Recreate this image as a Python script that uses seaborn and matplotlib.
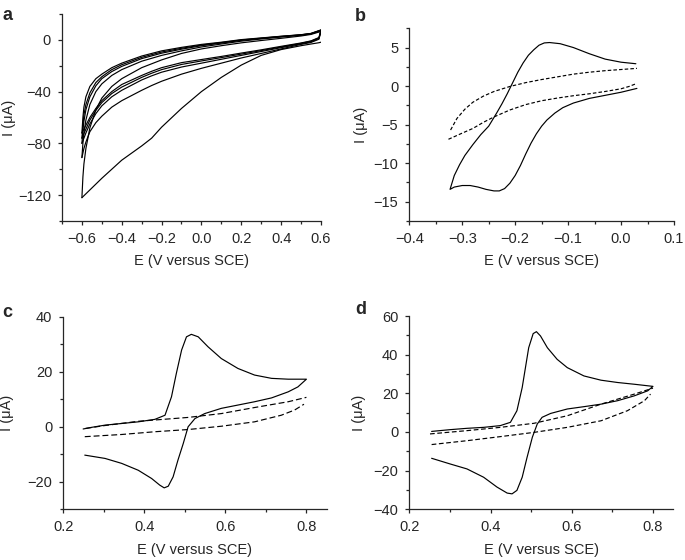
import matplotlib
matplotlib.use("Agg")
import matplotlib.pyplot as plt
import seaborn as sns
from matplotlib.ticker import MultipleLocator

# ---- panel a: repeated cycles, cathodic sweeps (0.6 -> -0.6) ----
a_E_cath = [0.6, 0.59, 0.55, 0.5, 0.4, 0.3, 0.2, 0.1, 0.0, -0.1, -0.2, -0.25, -0.3,
            -0.4, -0.45, -0.5, -0.53, -0.56, -0.58, -0.59, -0.6]
a_cath1 = [-1.8, -2.2, -3.2, -4.5, -7.5, -12, -19.5, -29, -40, -53, -67.5, -76, -82,
           -93, -100, -107, -111.5, -116, -119, -120.5, -122]
a_cath2 = [6.5, 0.5, -2, -3.5, -7, -10.5, -14, -18, -22, -26.5, -32, -35.3, -39,
           -47, -52, -59, -64, -71, -79, -84, -91]
a_cath3 = [7, 1, -1.5, -3, -6, -9, -12, -15, -18, -21, -25, -27.8, -31,
           -39, -44, -51, -57, -65, -72, -76, -80]
a_cath4 = [7.3, 1.5, -1, -2.7, -5.5, -8.3, -11, -13.7, -16.3, -19, -23, -25.8, -29,
           -36.5, -41.5, -48.5, -54.5, -62, -69, -72.5, -76]
a_cath5 = [7.5, 1.8, -0.8, -2.4, -5, -7.7, -10.2, -12.8, -15.2, -17.6, -21.5, -24.3, -27.5,
           -34.5, -40, -47, -53, -60, -66, -69, -72]

# anodic sweeps (-0.6 -> 0.6)
a_E_an = [-0.6, -0.595, -0.59, -0.58, -0.56, -0.53, -0.5, -0.45, -0.4, -0.3,
          -0.2, -0.1, 0.0, 0.1, 0.2, 0.3, 0.4, 0.5, 0.55, 0.6]
a_an1 = [-122, -106, -96, -84, -68, -54, -45, -36, -30, -21.5,
         -15.5, -10.5, -7, -4.5, -2.3, -0.5, 1.2, 3, 4.2, 6.5]
a_an2 = [-91, -80, -72, -62, -50, -40, -34, -27.5, -23, -16.5,
         -12, -8.5, -5.5, -3.2, -1, 0.7, 2.2, 3.6, 4.6, 7]
a_an3 = [-80, -70, -63, -54, -44, -35.5, -30, -24.5, -20.5, -14.5,
         -10.3, -7.2, -4.5, -2.5, -0.4, 1.1, 2.5, 3.8, 4.8, 7.3]
a_an4 = [-76, -66, -58, -50, -41, -33, -28.5, -23, -19.2, -13.5,
         -9.4, -6.5, -4, -2.1, -0.1, 1.3, 2.7, 3.9, 4.9, 7.5]
a_an5 = [-72, -60, -52, -44, -36, -30, -26.5, -21.5, -18, -12.5,
         -8.5, -5.8, -3.5, -1.8, 0.2, 1.5, 2.8, 4, 5, 7.7]

# ---- panel b ----
b_E_solid = [0.028, 0.0, -0.03, -0.06, -0.09, -0.115, -0.135, -0.145, -0.155, -0.165,
             -0.175, -0.185, -0.195, -0.205, -0.215, -0.225, -0.235, -0.25, -0.265,
             -0.28, -0.295, -0.305, -0.315, -0.323, -0.315, -0.3, -0.285, -0.27,
             -0.255, -0.24, -0.23, -0.22, -0.21, -0.2, -0.19, -0.18, -0.17, -0.16,
             -0.15, -0.14, -0.125, -0.11, -0.09, -0.06, -0.03, 0.0, 0.03]
b_I_solid = [2.9, 3.1, 3.5, 4.2, 5.0, 5.5, 5.65, 5.6, 5.3, 4.7,
             4.0, 3.0, 1.8, 0.4, -1.0, -2.3, -3.5, -5.2, -6.3,
             -7.6, -9.0, -10.2, -11.6, -13.4, -13.1, -12.9, -12.9, -13.1,
             -13.4, -13.6, -13.6, -13.3, -12.6, -11.6, -10.3, -8.8, -7.4, -6.2,
             -5.2, -4.4, -3.5, -2.8, -2.2, -1.6, -1.2, -0.8, -0.3]
b_E_dash_up = [-0.322, -0.31, -0.295, -0.28, -0.26, -0.24, -0.21, -0.18, -0.15,
               -0.12, -0.09, -0.06, -0.03, 0.0, 0.03]
b_I_dash_up = [-5.7, -4.2, -3.0, -2.1, -1.3, -0.7, -0.05, 0.45, 0.85,
               1.2, 1.55, 1.8, 2.0, 2.15, 2.3]
b_E_dash_lo = [-0.326, -0.3, -0.28, -0.26, -0.24, -0.21, -0.18, -0.15, -0.12,
               -0.09, -0.06, -0.03, 0.0, 0.015, 0.03]
b_I_dash_lo = [-6.9, -6.1, -5.5, -4.7, -4.0, -3.1, -2.4, -1.9, -1.55,
               -1.25, -1.0, -0.7, -0.35, -0.05, 0.35]

# ---- panel c ----
c_E_solid = [0.253, 0.303, 0.344, 0.385, 0.418, 0.438, 0.449, 0.459, 0.471, 0.483,
             0.496, 0.508, 0.525, 0.549, 0.59, 0.631, 0.672, 0.714, 0.755, 0.779,
             0.8, 0.755, 0.714, 0.672, 0.631, 0.59, 0.557, 0.533, 0.516, 0.504,
             0.492, 0.479, 0.467, 0.451, 0.426, 0.385, 0.344, 0.303, 0.27, 0.249]
c_I_solid = [-10.3, -11.5, -13.3, -15.8, -18.8, -21.2, -22.2, -21.6, -18.2, -12.1,
             -6.1, 0.0, 3.0, 4.8, 6.7, 7.9, 9.1, 10.5, 12.7, 14.5,
             17.3, 17.3, 17.6, 18.8, 21.2, 24.8, 29.1, 32.7, 33.6, 32.7,
             27.9, 19.4, 10.9, 4.2, 2.7, 1.8, 1.2, 0.6, -0.2, -0.8]
c_E_dash_up = [0.255, 0.3, 0.385, 0.508, 0.59, 0.672, 0.755, 0.8]
c_I_dash_up = [-0.6, 0.4, 2.0, 3.4, 4.8, 7.0, 9.1, 10.7]
c_E_dash_lo = [0.253, 0.344, 0.426, 0.508, 0.59, 0.672, 0.738, 0.771, 0.794]
c_I_dash_lo = [-3.6, -2.8, -1.8, -1.0, 0.2, 1.8, 4.2, 6.1, 8.2]

# ---- panel d ----
d_E_solid = [0.255, 0.3, 0.342, 0.383, 0.416, 0.441, 0.453, 0.465, 0.478, 0.49,
             0.503, 0.515, 0.527, 0.548, 0.589, 0.63, 0.672, 0.713, 0.754, 0.787,
             0.8, 0.754, 0.713, 0.672, 0.63, 0.589, 0.564, 0.54, 0.523, 0.513,
             0.505, 0.494, 0.486, 0.478, 0.465, 0.449, 0.424, 0.383, 0.342, 0.3, 0.255]
d_I_solid = [-13.6, -16.5, -19.1, -23.4, -28.5, -31.6, -32, -30.2, -23.4, -13.1,
             -2.7, 4.1, 7.6, 9.6, 11.9, 13.1, 14.4, 16.2, 18.7, 21.3,
             23.6, 24.7, 25.6, 26.8, 29, 33.3, 37.6, 43.6, 49.7, 51.9,
             50.9, 43.6, 33.3, 23, 11, 5, 3.3, 2.4, 1.9, 1.2, 0.3]
d_E_dash_up = [0.251, 0.342, 0.424, 0.507, 0.589, 0.672, 0.754, 0.8]
d_I_dash_up = [-1.0, 0.7, 2.4, 4.5, 8.4, 14.4, 19.6, 22.7]
d_E_dash_lo = [0.255, 0.342, 0.424, 0.507, 0.589, 0.672, 0.737, 0.779, 0.794]
d_I_dash_lo = [-6.5, -4.5, -2.4, -0.2, 2.4, 5.8, 11, 16.2, 19.6]

sns.set_style("ticks")
plt.rcParams['font.family'] = ['Liberation Sans', 'DejaVu Sans']
plt.rcParams['font.size'] = 10.5
plt.rcParams['xtick.major.size'] = 3
plt.rcParams['ytick.major.size'] = 3
plt.rcParams['xtick.minor.size'] = 2
plt.rcParams['ytick.minor.size'] = 2
plt.rcParams['xtick.major.pad'] = 5
plt.rcParams['ytick.major.pad'] = 5
plt.rcParams['axes.linewidth'] = 0.9

fig = plt.figure(figsize=(6.85, 5.6), dpi=100)
ax_a = fig.add_axes([0.0905, 0.6054, 0.378, 0.3696])
ax_b = fig.add_axes([0.5975, 0.6054, 0.3864, 0.3441])
ax_c = fig.add_axes([0.0924, 0.0905, 0.3845, 0.3439])
ax_d = fig.add_axes([0.5975, 0.0905, 0.3854, 0.3452])

lw = 0.85
solid = dict(color='black', lw=lw, sort=False, estimator=None)

# panel a
for cath in [a_cath1, a_cath2, a_cath3, a_cath4, a_cath5]:
    sns.lineplot(x=a_E_cath, y=cath, ax=ax_a, **solid)
for an in [a_an1, a_an2, a_an3, a_an4, a_an5]:
    sns.lineplot(x=a_E_an, y=an, ax=ax_a, **solid)
ax_a.set_xlim(-0.7, 0.6)
ax_a.set_ylim(-140, 20)
ax_a.xaxis.set_major_locator(MultipleLocator(0.2))
ax_a.xaxis.set_minor_locator(MultipleLocator(0.1))
ax_a.set_yticks([-120, -80, -40, 0])
ax_a.yaxis.set_minor_locator(MultipleLocator(20))

# panel b
sns.lineplot(x=b_E_solid, y=b_I_solid, ax=ax_b, **solid)
sns.lineplot(x=b_E_dash_up, y=b_I_dash_up, ax=ax_b, linestyle=(0, (3, 1.8)), **solid)
sns.lineplot(x=b_E_dash_lo, y=b_I_dash_lo, ax=ax_b, linestyle=(0, (3, 1.8)), **solid)
ax_b.set_xlim(-0.4, 0.1)
ax_b.set_ylim(-17.5, 7.5)
ax_b.xaxis.set_major_locator(MultipleLocator(0.1))
ax_b.xaxis.set_minor_locator(MultipleLocator(0.05))
ax_b.set_yticks([-15, -10, -5, 0, 5])
ax_b.yaxis.set_minor_locator(MultipleLocator(2.5))

# panel c
sns.lineplot(x=c_E_solid, y=c_I_solid, ax=ax_c, **solid)
sns.lineplot(x=c_E_dash_up, y=c_I_dash_up, ax=ax_c, linestyle=(0, (5, 2.5)), **solid)
sns.lineplot(x=c_E_dash_lo, y=c_I_dash_lo, ax=ax_c, linestyle=(0, (5, 2.5)), **solid)
ax_c.set_xlim(0.2, 0.85)
ax_c.set_ylim(-30, 40)
ax_c.set_xticks([0.2, 0.4, 0.6, 0.8])
ax_c.xaxis.set_minor_locator(MultipleLocator(0.1))
ax_c.set_yticks([-20, 0, 20, 40])
ax_c.yaxis.set_minor_locator(MultipleLocator(10))

# panel d
sns.lineplot(x=d_E_solid, y=d_I_solid, ax=ax_d, **solid)
sns.lineplot(x=d_E_dash_up, y=d_I_dash_up, ax=ax_d, linestyle=(0, (4, 2.2)), **solid)
sns.lineplot(x=d_E_dash_lo, y=d_I_dash_lo, ax=ax_d, linestyle=(0, (4, 2.2)), **solid)
ax_d.set_xlim(0.2, 0.85)
ax_d.set_ylim(-40, 60)
ax_d.set_xticks([0.2, 0.4, 0.6, 0.8])
ax_d.xaxis.set_minor_locator(MultipleLocator(0.1))
ax_d.set_yticks([-40, -20, 0, 20, 40, 60])
ax_d.yaxis.set_minor_locator(MultipleLocator(10))

ylab_x = {ax_a: -0.178, ax_b: -0.156, ax_c: -0.187, ax_d: -0.165}
for ax in [ax_a, ax_b, ax_c, ax_d]:
    sns.despine(ax=ax)
    ax.set_xlabel("E (V versus SCE)", fontsize=10.5, labelpad=6)
    ax.set_ylabel("I (\u03bcA)", fontsize=10.5)
    ax.yaxis.set_label_coords(ylab_x[ax], 0.5)
    ax.tick_params(which='both', direction='out', width=0.9, labelsize=10.5)

fig.text(0.004, 0.988, "a", fontsize=13, fontweight='bold', va='top')
fig.text(0.518, 0.986, "b", fontsize=13, fontweight='bold', va='top')
fig.text(0.004, 0.458, "c", fontsize=13, fontweight='bold', va='top')
fig.text(0.518, 0.462, "d", fontsize=13, fontweight='bold', va='top')

fig.savefig("out.png", dpi=100)
